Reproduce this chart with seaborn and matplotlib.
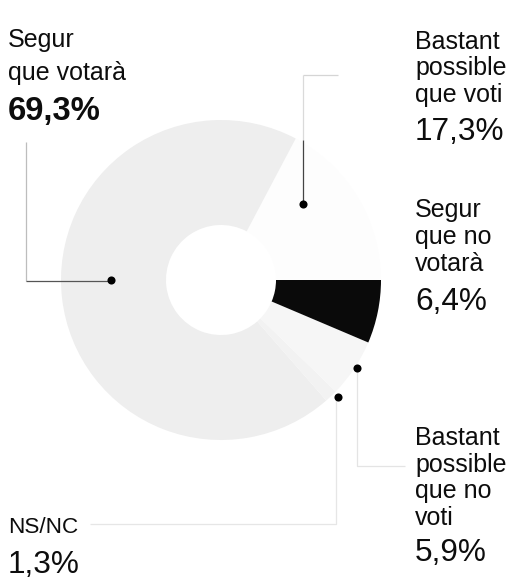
import numpy as np
import seaborn as sns
import matplotlib.pyplot as plt

# slices, in order counter-clockwise starting at 3 o'clock
categories = ["Bastant possible que voti", "Segur que votarà", "NS/NC",
              "Bastant possible que no voti", "Segur que no votarà"]
values = [17.3, 69.3, 1.3, 5.9, 6.4]
pct_labels = ["17,3%", "69,3%", "1,3%", "5,9%", "6,4%"]
label_lines = [["Bastant", "possible", "que voti"],
               ["Segur", "que votarà"],
               ["NS/NC"],
               ["Bastant", "possible", "que no", "voti"],
               ["Segur", "que no", "votarà"]]

# scanned print: light tones came out almost white
colors = ["#fdfdfd", "#eeeeee", "#f2f2f2", "#f6f6f6", "#0a0a0a"]

sns.set_theme(style="white")
plt.rcParams['font.family'] = ['Liberation Sans', 'DejaVu Sans']

W, H = 511, 583
fig = plt.figure(figsize=(W / 100, H / 100), dpi=100)
ax = fig.add_axes([0, 0, 1, 1])

cx, cy, R, ring = 221, 280, 160, 105
wedges, _ = ax.pie(values, colors=colors, startangle=0, counterclock=False,
                   radius=R, center=(cx, cy),
                   wedgeprops=dict(width=ring, edgecolor="none"))

ax.set_xlim(0, W)
ax.set_ylim(H, 0)
ax.set_aspect("equal")
ax.set_axis_off()

# leader lines (pixel coords of the layout)
grey_lines = [
    ([26, 26], [142, 281], "#bdbdbd"),
    ([26, 111], [281, 281], "#555555"),
    ([303, 338], [75, 75], "#d5d5d5"),
    ([303, 303], [75, 140], "#dadada"),
    ([303, 303], [140, 204], "#444444"),
    ([357, 357, 405], [368, 466, 466], "#e4e4e4"),
    ([336, 336, 90], [395, 524, 524], "#e6e6e6"),
]
for xs, ys, c in grey_lines:
    ax.plot(xs, ys, color=c, lw=0.9, solid_capstyle="butt")

# anchor dots, placed in polar terms around the ring
anchor_deg = [42.8, 180.0, -45.0, -32.9]
anchor_r = [112, 110, 165, 162]
dot_x = [cx + r * np.cos(np.radians(a)) for a, r in zip(anchor_deg, anchor_r)]
dot_y = [cy - r * np.sin(np.radians(a)) for a, r in zip(anchor_deg, anchor_r)]
sns.scatterplot(x=dot_x, y=dot_y, color="black", s=34, linewidth=0,
                legend=False, ax=ax, zorder=5)

txt = "#0d0d0d"
cat_size = 18
pct_size = 22.7

# label positions: (x, baselines of lines, baseline of pct)
layout = [
    (415, [49, 75, 102], 140),
    (8, [47, 80], 120),
    (8, [533], 573),
    (415, [445, 472, 498, 525], 561),
    (415, [217, 244, 271], 310),
]
for i, (x, bases, pbase) in enumerate(layout):
    size = 16.2 if categories[i] == "NS/NC" else cat_size
    for line, b in zip(label_lines[i], bases):
        ax.text(x, b, line, fontsize=size, color=txt, va="baseline", ha="left")
    bold = categories[i] == "Segur que votarà"
    ax.text(x, pbase, pct_labels[i], fontsize=23.6 if bold else pct_size,
            fontweight="bold" if bold else "normal", color=txt,
            va="baseline", ha="left")

fig.savefig("out.png", dpi=100)
